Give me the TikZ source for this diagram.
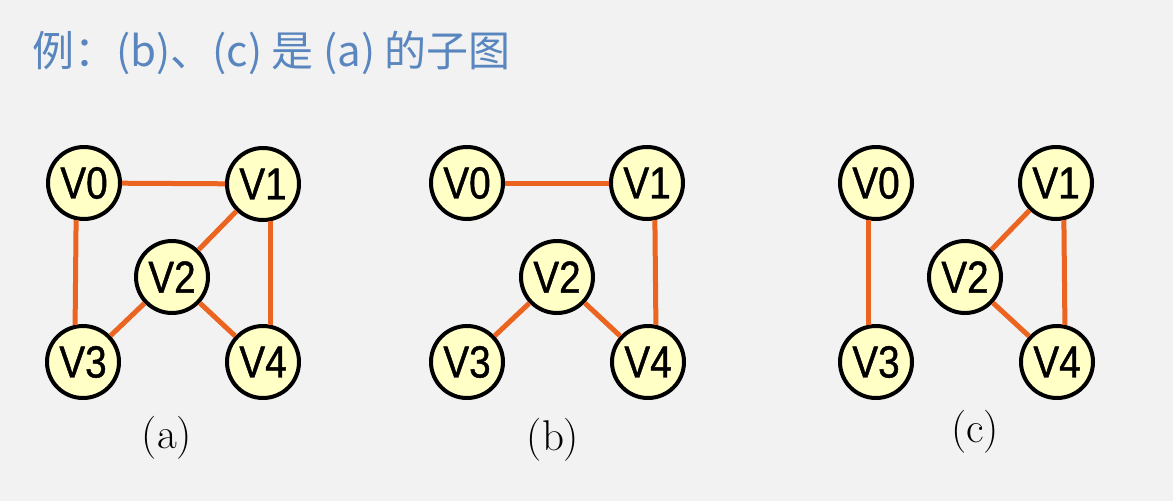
\documentclass[tikz,border=0pt]{standalone}
\usepackage{fontspec}
\newfontfamily\cjk{Noto Sans CJK SC}
\newfontfamily\vxfont[FakeStretch=0.86,FakeBold=1]{Liberation Sans}
\definecolor{bggray}{HTML}{F2F2F2}
\definecolor{titleblue}{HTML}{5A86BF}
\definecolor{vxfill}{HTML}{FFFFC6}
\definecolor{edgeorange}{HTML}{EB6420}
\tikzset{
  vx/.style={circle, draw=black, line width=4pt, fill=vxfill, minimum size=72pt, inner sep=0pt,
    font=\vxfont\fontsize{45}{45}\selectfont},
  edg/.style={draw=edgeorange, line width=5pt},
  sublabel/.style={font=\fontsize{43}{43}\selectfont}
}
\begin{document}
\begin{tikzpicture}[x=1pt,y=-1pt, line join=round]
			\fill[bggray] (0,0) rectangle (1173,501);
			\node[anchor=west, inner sep=0pt, text=titleblue, font=\cjk\fontsize{42}{42}\selectfont] (title) at (32,53) {例：(b)、(c) 是 (a) 的子图};
			% graph (a)
			\foreach \n/\px/\py in {0/84/183,1/263/184,2/172/277,3/83/362,4/263/362}
			\node[vx] (a\n) at (\px,\py) {V\n};
			\draw[edg] (a0)--(a1);
			\draw[edg] (a0.-102)--(a3.102);
			\draw[edg] (a1.-78)--(a4.78);
			\draw[edg] (a1)--(a2);
			\draw[edg] (a2)--(a3);
			\draw[edg] (a2)--(a4);
			\node[sublabel] (capa) at (167,438) {(a)};
			% graph (b)
			\foreach \n/\px/\py in {0/467/183,1/647/183,2/557/277,3/467/362,4/648/362}
			\node[vx] (b\n) at (\px,\py) {V\n};
			\draw[edg] (b0)--(b1);
			\draw[edg] (b1.-78)--(b4.78);
			\draw[edg] (b2)--(b3);
			\draw[edg] (b2)--(b4);
			\node[sublabel] (capb) at (553,440) {(b)};
			% graph (c)
			\foreach \n/\px/\py in {0/876/183,1/1056/183,2/965/277,3/876/362,4/1057/362}
			\node[vx] (c\n) at (\px,\py) {V\n};
			\draw[edg] (c0.-102)--(c3.102);
			\draw[edg] (c1.-78)--(c4.78);
			\draw[edg] (c1)--(c2);
			\draw[edg] (c2)--(c4);
			\node[sublabel] (capc) at (975,432) {(c)};
\end{tikzpicture}
\end{document}
